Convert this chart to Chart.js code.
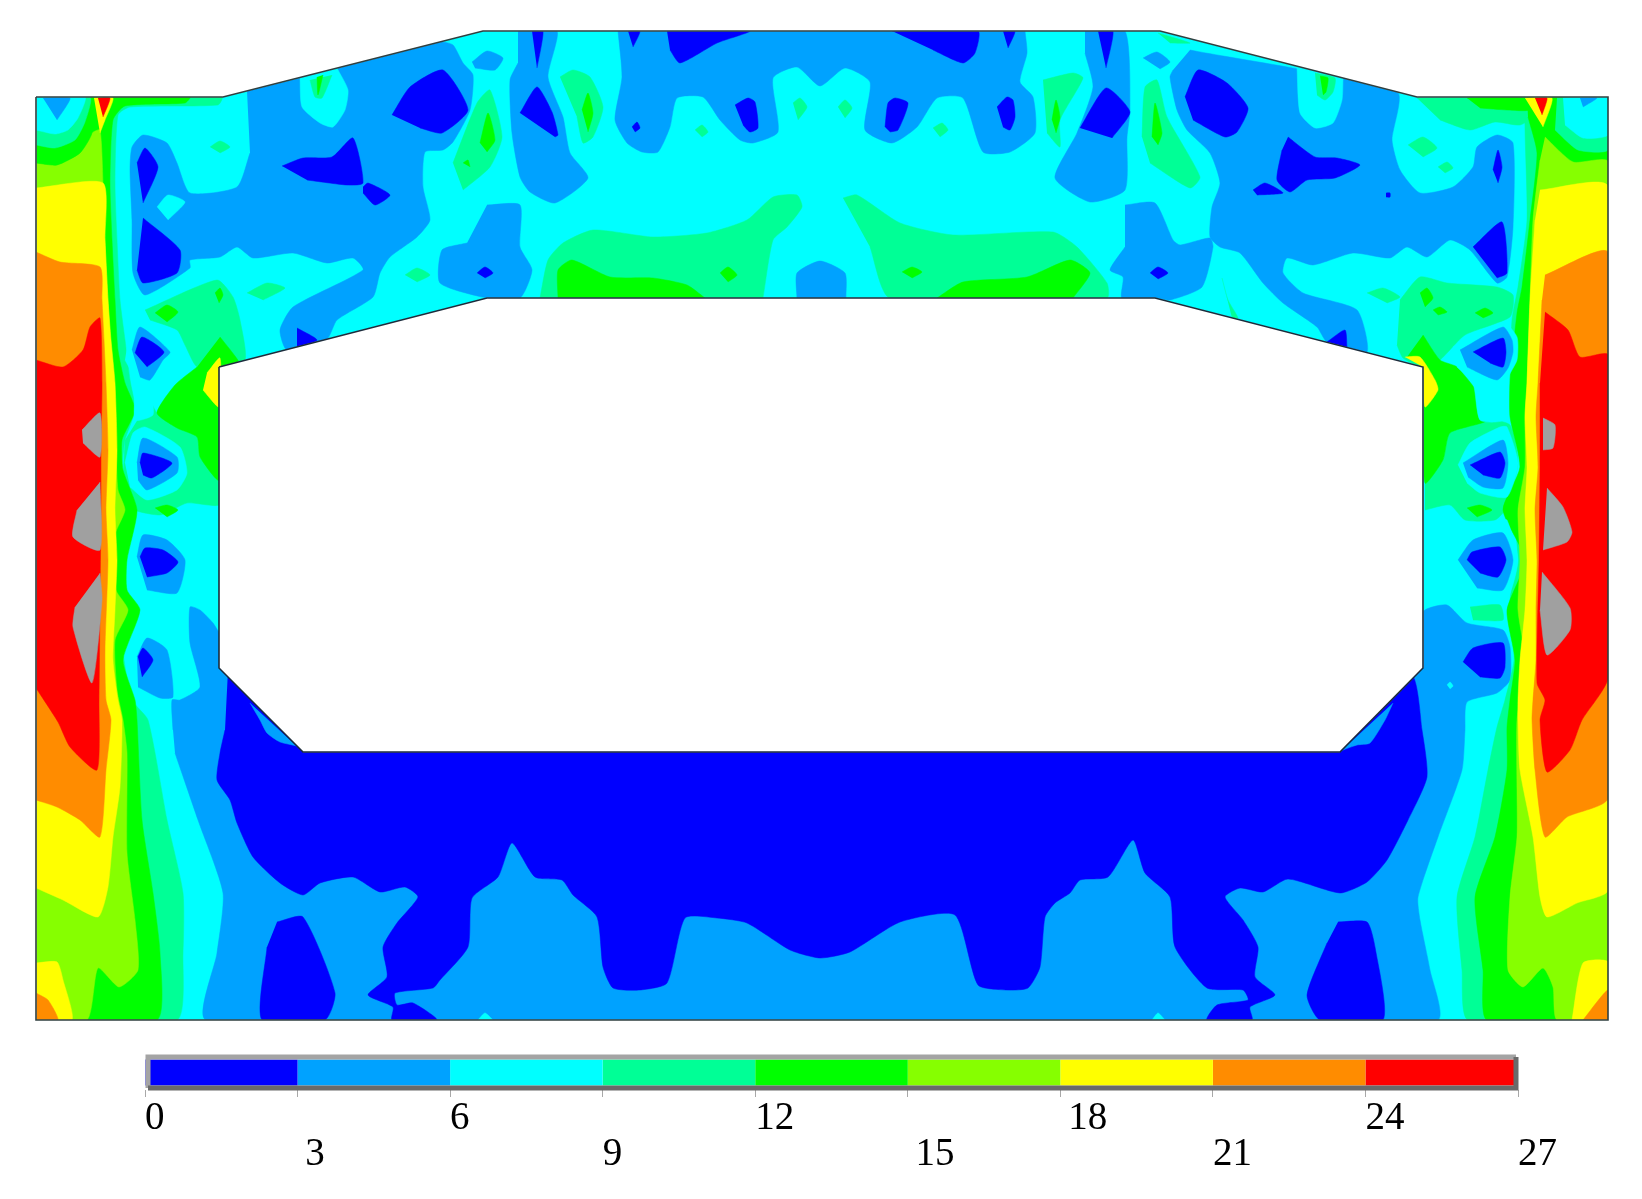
<!DOCTYPE html>
<html>
<head>
<meta charset="utf-8">
<style>
  html, body { margin: 0; padding: 0; background: #fff; }
  body { width: 1642px; height: 1199px; position: relative; overflow: hidden; }
  #barWrap { position: absolute; left: 125px; top: 1045px; width: 1500px; height: 140px; filter: blur(0.4px); }
  #mapWrap { position: absolute; left: 0; top: 0; width: 1642px; height: 1199px; pointer-events: none; filter: blur(0.6px); }
</style>
</head>
<body>
<div id="barWrap"><canvas id="legendBar"></canvas></div>
<div id="mapWrap"><canvas id="contourMap"></canvas></div>
<script src="https://cdn.jsdelivr.net/npm/chart.js@4/dist/chart.umd.min.js"></script>
<script>
// ── Legend data ───────────────────────────────────────
const bandColors = ['#0000ff', '#00a2ff', '#00ffff', '#00ff96', '#00ff00', '#86ff00', '#ffff00', '#ff8c00', '#ff0000'];
const bandWidths = [3, 3, 3, 3, 3, 3, 3, 3, 3];
const tickValues = [0, 3, 6, 9, 12, 15, 18, 21, 24, 27];
const tickLead = ['', '\u2009', '', '', '', '\u2009', '\u2009', '', '', ''];
const overColor = '#a0a0a0';

// ── Contour regions ───────────────────────────────────
const outline = [[36,97],[223,97],[483,31],[1160,31],[1417,97],[1608,97],[1608,1020],[36,1020]];
const opening = [[219,367],[487,298],[1155,298],[1423,367],[1423,668],[1340,752],[303,752],[219,668]];
const masks = [
  [[0,0],[1642,0],[1642,31],[0,31]],
  [[0,0],[36,0],[36,1045],[0,1045]],
  [[1608,0],[1642,0],[1642,1045],[1608,1045]],
  [[0,1020],[1642,1020],[1642,1045],[0,1045]],
  [[36,97],[223,97],[483,31],[36,31]],
  [[1160,31],[1417,97],[1608,97],[1608,31]],
];

const lightBlueAreas = [
  // upper left
  [[247,91],[300,78],[440,42],[453,45],[463,63],[473,75],[470,110],[453,142],[443,150],[425,152],[423,187],[430,220],[417,237],[390,257],[380,273],[373,297],[337,320],[327,339],[287,350],[280,330],[293,307],[363,270],[353,258],[327,263],[293,253],[253,258],[237,247],[220,257],[190,260],[190,268],[145,295],[133,273],[132,220],[130,170],[132,147],[143,135],[167,143],[177,163],[190,193],[237,187],[250,153]],
  // wedge left of centre
  [[518,31],[557,31],[548,77],[563,117],[570,153],[588,178],[555,203],[530,192],[520,177],[512,133],[510,80],[518,63]],
  // top centre
  [[618,31],[622,77],[615,120],[627,143],[642,152],[658,152],[670,127],[677,98],[703,97],[720,120],[740,140],[753,143],[778,132],[773,78],[797,67],[820,86],[845,68],[870,82],[865,130],[892,143],[917,127],[937,98],[963,98],[983,152],[1010,152],[1035,133],[1033,97],[1020,82],[1027,53],[1025,31]],
  // wedge right of centre
  [[1085,31],[1125,31],[1130,110],[1127,137],[1125,190],[1090,202],[1055,178],[1077,133],[1093,87],[1085,53]],
  // lower lobes
  [[487,205],[520,205],[520,247],[532,270],[520,298],[487,298],[440,283],[442,250],[467,243]],
  [[797,298],[797,273],[820,261],[845,273],[846,298]],
  [[1125,205],[1155,203],[1173,240],[1180,245],[1210,238],[1213,247],[1202,287],[1170,300],[1157,298],[1122,298],[1123,277],[1110,270],[1125,247]],
  // upper right
  [[1190,50],[1397,92],[1392,140],[1400,170],[1420,193],[1453,187],[1473,167],[1477,147],[1497,135],[1513,143],[1513,227],[1507,277],[1497,283],[1470,250],[1450,240],[1427,257],[1407,247],[1390,258],[1353,253],[1313,265],[1287,258],[1283,273],[1303,293],[1357,310],[1367,352],[1327,342],[1317,327],[1283,303],[1263,283],[1240,253],[1220,247],[1210,237],[1212,207],[1220,183],[1210,153],[1187,130],[1177,110],[1170,77],[1173,70]],
  // small diamonds on cyan
  [[472,62],[487,51],[503,58],[495,70],[475,68]],
  [[1143,58],[1157,52],[1170,62],[1160,69]],
  // whole lower part, its top runs behind the opening
  [[173,730],[172,700],[180,700],[200,687],[190,643],[190,607],[200,610],[213,623],[225,640],[250,640],[1400,640],[1425,610],[1447,605],[1467,623],[1503,630],[1510,647],[1510,680],[1497,693],[1467,702],[1465,730],[1462,770],[1438,837],[1418,897],[1420,920],[1430,970],[1437,1020],[207,1020],[217,953],[223,893],[198,820],[175,753]],
];

const cyanPatches = [
  [[300,78],[302,107],[320,123],[333,127],[345,110],[348,90],[337,68]],
  [[1297,67],[1300,113],[1315,128],[1333,123],[1342,100],[1343,78]],
  [[157,207],[168,195],[185,202],[168,220]],
];

const mintAreas = [
  // left and right strips
  [[36,97],[222,97],[218,105],[130,107],[118,115],[115,183],[117,240],[120,300],[125,340],[130,380],[135,410],[125,440],[122,470],[125,500],[125,540],[122,560],[128,600],[128,625],[123,650],[132,700],[148,720],[167,820],[183,893],[183,953],[177,1020],[36,1020]],
  [[1608,97],[1608,1020],[1468,1020],[1462,970],[1457,897],[1475,837],[1488,770],[1497,727],[1505,700],[1514,660],[1510,600],[1518,560],[1513,500],[1520,467],[1515,430],[1510,390],[1512,320],[1518,287],[1527,220],[1525,117],[1530,97]],
  // top right strip
  [[1417,98],[1530,98],[1535,115],[1520,125],[1495,122],[1470,130],[1440,120]],
  [[1158,33],[1190,43],[1170,43]],
  // around the cells, left
  [[145,310],[217,280],[233,297],[240,320],[245,360],[219,367],[197,367],[185,345],[177,330],[150,320]],
  [[150,400],[157,413],[177,428],[197,437],[200,457],[219,482],[219,505],[187,503],[160,515],[125,505],[125,440]],
  // around the cells, right
  [[1400,300],[1420,277],[1447,283],[1497,287],[1513,295],[1510,317],[1465,335],[1440,360],[1423,367],[1403,358],[1397,345]],
  [[1367,293],[1383,288],[1400,297],[1387,303]],
  [[1425,483],[1443,460],[1450,433],[1488,420],[1510,425],[1518,463],[1505,510],[1495,520],[1465,520],[1450,505],[1425,510]],
  [[1470,607],[1500,605],[1503,620],[1473,620]],
  // upper patches
  [[247,293],[267,283],[285,288],[263,300]],
  [[210,147],[220,141],[230,147],[220,153]],
  [[405,275],[417,268],[430,275],[417,282]],
  [[453,163],[477,103],[490,90],[502,137],[490,167],[463,190]],
  [[560,77],[573,70],[590,77],[603,107],[593,137],[583,143],[577,117]],
  [[310,80],[315,97],[322,98],[332,75]],
  [[695,130],[702,125],[708,132],[702,137]],
  [[793,103],[800,98],[807,107],[798,120]],
  [[838,107],[845,100],[852,108],[845,118]],
  [[933,128],[942,123],[948,130],[940,137]],
  [[1043,80],[1073,73],[1083,78],[1060,120],[1060,147],[1047,133]],
  [[1142,137],[1145,87],[1157,80],[1167,117],[1200,177],[1190,188],[1150,163]],
  [[1222,278],[1228,300],[1238,318],[1232,318]],
  [[1315,73],[1335,78],[1333,92],[1325,100],[1317,95]],
  [[1408,145],[1423,137],[1437,148],[1423,157]],
  [[1438,167],[1447,162],[1453,168],[1445,173]],
  // long bands above the opening
  [[540,298],[548,260],[563,243],[593,230],[653,237],[707,233],[747,220],[773,197],[797,195],[802,207],[787,227],[773,240],[763,298]],
  [[843,198],[857,195],[900,223],[953,235],[1053,232],[1077,247],[1107,283],[1107,298],[890,298],[870,247]],
];

const greenAreas = [
  // left strip with top edge
  [[88,97],[190,97],[185,103],[125,106],[113,120],[110,183],[112,240],[115,300],[118,350],[125,383],[135,410],[122,440],[123,470],[137,510],[127,560],[127,590],[140,610],[123,660],[135,700],[137,720],[142,820],[153,893],[160,953],[157,1020],[36,1020],[36,160]],
  // right strip
  [[1527,97],[1608,97],[1608,1020],[1487,1020],[1483,970],[1475,897],[1495,837],[1507,770],[1507,727],[1510,700],[1515,660],[1507,610],[1525,560],[1503,510],[1520,467],[1510,417],[1510,383],[1517,313],[1522,287],[1530,220],[1537,153],[1528,117]],
  [[1467,98],[1527,98],[1530,110],[1507,110],[1480,108]],
  // wedges next to the opening
  [[220,337],[235,356],[240,365],[219,372],[219,480],[200,457],[197,437],[177,428],[157,413],[175,385],[197,367]],
  [[1423,335],[1440,360],[1457,367],[1480,395],[1483,400],[1488,420],[1450,433],[1443,460],[1425,483],[1423,367],[1407,357]],
  // spots
  [[155,313],[167,305],[178,312],[167,322]],
  [[215,293],[220,288],[223,295],[219,303]],
  [[155,508],[167,505],[178,510],[167,517]],
  [[1467,508],[1480,505],[1492,510],[1477,517]],
  [[1420,293],[1427,288],[1433,298],[1425,307]],
  [[1433,310],[1440,307],[1447,312],[1438,315]],
  [[1475,313],[1485,308],[1493,313],[1483,318]],
  [[480,143],[488,113],[495,140],[487,152]],
  [[463,163],[468,160],[470,167]],
  [[582,110],[588,93],[593,113],[588,132]],
  [[1052,120],[1056,100],[1060,117],[1056,133]],
  [[1152,137],[1155,103],[1162,133],[1158,145]],
  [[317,77],[318,95],[323,75]],
  [[1320,76],[1328,78],[1326,92],[1323,95]],
  [[720,273],[728,267],[737,275],[728,282]],
  [[902,272],[912,267],[922,272],[912,278]],
  [[558,298],[558,270],[572,260],[610,277],[653,278],[687,285],[705,298]],
  [[937,298],[963,282],[1027,277],[1070,260],[1090,273],[1073,298]],
];

const limeAreas = [
  [[36,163],[57,165],[80,153],[92,133],[100,130],[103,183],[105,240],[108,300],[113,383],[116,450],[118,490],[125,510],[115,535],[116,590],[128,610],[115,640],[117,690],[123,720],[127,753],[127,853],[135,920],[138,970],[119,987],[98,968],[87,1020],[36,1020]],
  [[1545,137],[1573,162],[1608,162],[1608,1020],[1557,1020],[1553,987],[1543,968],[1523,987],[1508,970],[1510,897],[1517,837],[1517,790],[1517,720],[1525,660],[1518,610],[1520,560],[1518,510],[1525,467],[1525,417],[1527,383],[1530,300],[1533,220],[1540,160]],
];

const yellowAreas = [
  [[36,188],[103,183],[105,240],[108,300],[111,340],[115,383],[117,450],[115,510],[117,560],[115,610],[113,660],[118,700],[122,720],[120,787],[113,837],[108,887],[98,917],[63,900],[36,888]],
  [[1540,190],[1608,187],[1608,890],[1577,903],[1547,917],[1540,897],[1533,837],[1520,770],[1518,720],[1518,700],[1520,660],[1525,610],[1527,560],[1525,510],[1527,467],[1525,417],[1527,383],[1530,300],[1535,220]],
  [[36,963],[57,962],[63,980],[72,1020],[36,1020]],
  [[1572,1020],[1583,963],[1608,962],[1608,1020]],
  [[207,373],[220,358],[219,407],[203,390]],
  [[1405,357],[1420,357],[1435,380],[1438,390],[1425,407],[1423,367]],
];

const orangeAreas = [
  [[36,252],[60,262],[100,267],[102,300],[104,340],[106,383],[108,450],[106,510],[108,560],[105,650],[106,700],[111,720],[106,770],[100,837],[80,820],[57,807],[36,800]],
  [[1545,275],[1608,253],[1608,798],[1567,817],[1545,837],[1535,770],[1532,720],[1533,700],[1536,660],[1536,610],[1537,560],[1535,510],[1538,467],[1536,417],[1538,383],[1542,300]],
  [[36,993],[48,1000],[58,1020],[36,1020]],
  [[1583,1020],[1608,990],[1608,1020]],
];

const redAreas = [
  [[36,360],[63,367],[83,350],[90,327],[100,318],[102,383],[101,450],[101,510],[100,600],[99,700],[97,770],[70,747],[58,722],[36,688]],
  [[1545,312],[1568,330],[1580,357],[1608,355],[1608,678],[1582,720],[1570,750],[1547,772],[1540,720],[1545,700],[1537,683],[1539,560],[1540,467],[1540,383]],
];

const grayAreas = [
  [[82,430],[100,413],[100,457],[83,443]],
  [[100,482],[100,550],[73,537],[77,510]],
  [[100,573],[102,600],[92,683],[73,627],[75,607]],
  [[1543,418],[1555,425],[1553,448],[1543,450]],
  [[1547,488],[1563,507],[1572,532],[1567,542],[1543,550]],
  [[1542,572],[1570,608],[1570,630],[1547,655],[1540,610]],
];

// top corners of the two hot columns
const cornerGreen = [[[36,97],[92,97],[92,133],[80,153],[57,165],[36,163]]];
const cornerMint = [
  [[36,97],[90,97],[85,122],[75,140],[55,148],[36,145]],
  [[1557,98],[1608,98],[1608,150],[1578,150],[1555,130]],
];
const cornerCyan = [
  [[36,97],[85,97],[78,118],[68,130],[55,134],[36,130]],
  [[1563,98],[1608,98],[1608,135],[1583,138],[1565,125]],
];
const cornerLightBlue = [
  [[43,98],[70,98],[57,120]],
  [[1580,98],[1597,98],[1583,107]],
];
const spurYellow = [
  [[94,98],[113,98],[105,120],[100,133]],
  [[1525,98],[1552,98],[1543,127]],
];
const spurRed = [
  [[98,98],[110,98],[103,117]],
  [[1535,98],[1547,98],[1542,115]],
];

// rings around the stiffener cells
const cellCyan = [
  [[127,347],[140,318],[177,350],[177,363],[153,392],[153,415],[135,420],[135,380],[125,360]],
  [[125,463],[133,433],[145,427],[180,447],[187,473],[177,490],[147,500],[130,487]],
  [[1453,347],[1503,322],[1517,337],[1517,360],[1507,380],[1503,420],[1480,420],[1473,383],[1457,367]],
  [[1458,465],[1470,443],[1500,427],[1507,427],[1518,463],[1507,497],[1480,493],[1467,483]],
  [[1450,560],[1470,530],[1500,520],[1507,520],[1518,560],[1507,597],[1470,600]],
];
const cellLightBlue = [
  [[132,350],[140,327],[170,352],[163,360],[150,380],[140,377]],
  [[137,463],[143,438],[177,457],[177,473],[147,490],[138,480]],
  [[137,557],[143,535],[167,540],[185,560],[177,593],[147,590]],
  [[137,657],[147,638],[167,650],[173,697],[160,698],[138,687]],
  [[1460,350],[1503,327],[1512,340],[1513,352],[1508,368],[1497,380],[1467,367]],
  [[1463,463],[1503,440],[1508,463],[1503,488],[1483,487],[1468,477]],
  [[1458,560],[1473,540],[1503,533],[1513,560],[1503,590],[1477,588]],
];

const blueAreas = [
  // big lower region, its top runs behind the opening
  [[228,670],[300,690],[1340,690],[1411,674],[1422,730],[1427,777],[1408,820],[1387,860],[1367,882],[1340,893],[1288,879],[1263,892],[1240,888],[1225,897],[1243,920],[1258,947],[1255,977],[1275,995],[1250,1007],[1252,1020],[1207,1020],[1217,1005],[1248,1000],[1243,990],[1207,988],[1175,947],[1170,897],[1145,873],[1133,840],[1108,877],[1080,880],[1070,893],[1055,903],[1045,917],[1040,967],[1028,988],[1007,990],[978,985],[955,915],[900,922],[850,952],[820,958],[790,950],[747,923],[717,918],[685,918],[667,983],[640,990],[613,988],[603,967],[597,917],[573,895],[562,880],[535,877],[512,843],[498,877],[472,898],[468,947],[440,980],[433,988],[395,993],[397,1005],[413,1003],[437,1020],[392,1020],[393,1007],[368,995],[387,977],[383,947],[397,923],[418,897],[405,887],[380,892],[353,877],[320,883],[303,895],[280,883],[253,857],[237,823],[230,800],[217,780],[220,753],[225,730]],
  [[277,922],[303,917],[335,993],[325,1020],[262,1020],[267,947]],
  [[1338,922],[1367,922],[1375,947],[1383,1020],[1320,1020],[1307,995],[1327,943]],
  // left cells
  [[137,163],[145,148],[158,167],[143,203]],
  [[143,218],[180,250],[177,273],[143,283],[137,270]],
  [[135,353],[142,337],[164,352],[147,367]],
  [[140,463],[143,453],[172,463],[152,478],[143,475]],
  [[140,557],[145,548],[163,550],[178,562],[167,573],[147,577]],
  [[138,657],[143,648],[153,660],[142,677]],
  // right cells
  [[1493,170],[1498,150],[1502,167],[1498,183]],
  [[1473,247],[1502,222],[1507,273],[1497,278]],
  [[1473,352],[1503,338],[1506,352],[1503,367],[1490,363]],
  [[1470,465],[1500,452],[1505,463],[1500,478],[1483,475]],
  [[1467,560],[1472,552],[1500,547],[1506,560],[1498,577],[1480,573]],
  [[1463,662],[1473,648],[1503,643],[1505,667],[1500,678],[1480,677]],
  // upper spots
  [[282,166],[303,158],[332,157],[353,138],[363,183],[347,185],[307,180]],
  [[363,187],[368,183],[390,195],[375,205],[363,193]],
  [[392,115],[410,87],[443,70],[468,110],[442,133],[420,128]],
  [[297,328],[317,340],[297,348]],
  [[477,273],[485,267],[493,273],[485,278]],
  [[532,31],[543,31],[537,68]],
  [[520,113],[537,87],[552,112],[558,135],[555,137]],
  [[628,31],[640,31],[633,47]],
  [[632,127],[637,122],[640,128],[635,132]],
  [[667,31],[750,31],[717,43],[680,63],[670,50]],
  [[735,105],[748,98],[755,102],[758,128],[750,132],[743,125]],
  [[885,127],[888,103],[895,98],[908,103],[898,130],[890,132]],
  [[892,31],[978,31],[975,53],[963,63],[933,50]],
  [[997,107],[1007,97],[1013,100],[1015,117],[1010,130],[1003,127]],
  [[1003,31],[1015,31],[1008,48]],
  [[1098,31],[1113,31],[1106,68]],
  [[1080,128],[1106,88],[1130,112],[1112,138]],
  [[1150,273],[1158,267],[1168,273],[1158,279]],
  [[1185,97],[1198,70],[1227,83],[1248,108],[1237,132],[1225,137],[1193,120]],
  [[1288,137],[1315,157],[1337,158],[1360,165],[1335,178],[1307,180],[1290,192],[1277,180],[1282,150]],
  [[1253,190],[1265,183],[1283,193],[1257,195]],
  [[1386,193],[1390,193],[1390,197],[1386,197]],
  [[1327,342],[1345,330],[1347,348]],
];

const chamferSlivers = [
  [[250,703],[260,720],[267,733],[280,742],[300,747],[303,752]],
  [[1340,752],[1343,750],[1357,745],[1370,743],[1385,720],[1393,703]],
];
const cyanDots = [
  [[478,1020],[485,1013],[493,1020]],
  [[1152,1020],[1158,1013],[1165,1020]],
  [[1447,685],[1450,682],[1453,686],[1450,689]],
];

// frame around the legend strip
const frameLight = [[1516,1057],[148,1057],[148,1088]];
const frameDark = [[148,1088],[1516,1088],[1516,1057]];

// ── Contour chart ─────────────────────────────────────
const [BLUE, LBLUE, CYAN, MINT, GREEN, LIME, YELLOW, ORANGE, RED] = bandColors;
const SOFT = 0.2;
const paintOrder = [
  [[outline], CYAN, 0], [lightBlueAreas, LBLUE], [cyanPatches, CYAN], [mintAreas, MINT],
  [greenAreas, GREEN], [limeAreas, LIME], [yellowAreas, YELLOW], [orangeAreas, ORANGE],
  [redAreas, RED], [grayAreas, overColor], [cornerGreen, GREEN], [cornerMint, MINT],
  [cornerCyan, CYAN], [cornerLightBlue, LBLUE], [spurYellow, YELLOW], [spurRed, RED],
  [cellCyan, CYAN], [cellLightBlue, LBLUE], [blueAreas, BLUE], [chamferSlivers, LBLUE],
  [cyanDots, CYAN], [masks, '#ffffff', 0], [[opening], '#ffffff', 0],
];

const toPts = poly => poly.map(([x, y]) => ({ x, y }));

function areaSet(poly, color, tension) {
  return {
    data: toPts(poly), showLine: true, fill: 'shape', backgroundColor: color,
    borderColor: color, borderWidth: 0.5, pointRadius: 0, tension,
  };
}

function edgeSet(poly, color, width) {
  return {
    data: toPts(poly), showLine: true, fill: false, borderColor: color,
    borderWidth: width, pointRadius: 0, tension: 0,
  };
}

const mapSets = [];
paintOrder.forEach(([polys, color, tension = SOFT]) => polys.forEach(p => mapSets.push(areaSet(p, color, tension))));
mapSets.push(edgeSet([...outline, outline[0]], '#2f3f3f', 1.6));
mapSets.push(edgeSet([...opening, opening[0]], '#1c2c3c', 1.6));
mapSets.push(edgeSet(frameLight, '#a4a4a4', 5));
mapSets.push(edgeSet(frameDark, '#6a6a6a', 5));
// Chart.js paints the first dataset last
mapSets.reverse();

new Chart(document.getElementById('contourMap'), {
  type: 'scatter',
  data: { datasets: mapSets },
  options: {
    responsive: true,
    maintainAspectRatio: false,
    animation: false,
    layout: { padding: 0 },
    plugins: { legend: { display: false }, tooltip: { enabled: false } },
    scales: {
      x: { type: 'linear', min: 0, max: 1642, display: false },
      y: { type: 'linear', min: 0, max: 1199, reverse: true, display: false },
    },
  },
});

// ── Legend chart ──────────────────────────────────────
new Chart(document.getElementById('legendBar'), {
  type: 'bar',
  data: {
    labels: ['stress'],
    datasets: bandColors.map((c, i) => ({
      data: [bandWidths[i]], backgroundColor: c, borderWidth: 0,
      barPercentage: 0.74, categoryPercentage: 1, stack: 'bands',
    })),
  },
  options: {
    indexAxis: 'y',
    responsive: true,
    maintainAspectRatio: false,
    animation: false,
    layout: { padding: { left: 20, right: 107, top: 10, bottom: 0 } },
    plugins: { legend: { display: false }, tooltip: { enabled: false } },
    scales: {
      y: { stacked: true, display: false },
      x: {
        stacked: true, min: 0, max: 27, position: 'bottom',
        afterBuildTicks: s => { s.ticks = tickValues.map(value => ({ value })); },
        afterFit: s => { s.height = 95; },
        border: { display: false },
        grid: { drawOnChartArea: false, drawTicks: true, tickLength: 7, color: '#a8a8a8' },
        ticks: {
          autoSkip: false, maxRotation: 0, align: 'start', padding: 4, color: '#000',
          font: { family: '"Liberation Serif", serif', size: 39, lineHeight: '36px' },
          callback: (v, i) => (i % 2 ? ['', tickLead[i] + v] : [tickLead[i] + v, '']),
        },
      },
    },
  },
});
</script>
</body>
</html>
